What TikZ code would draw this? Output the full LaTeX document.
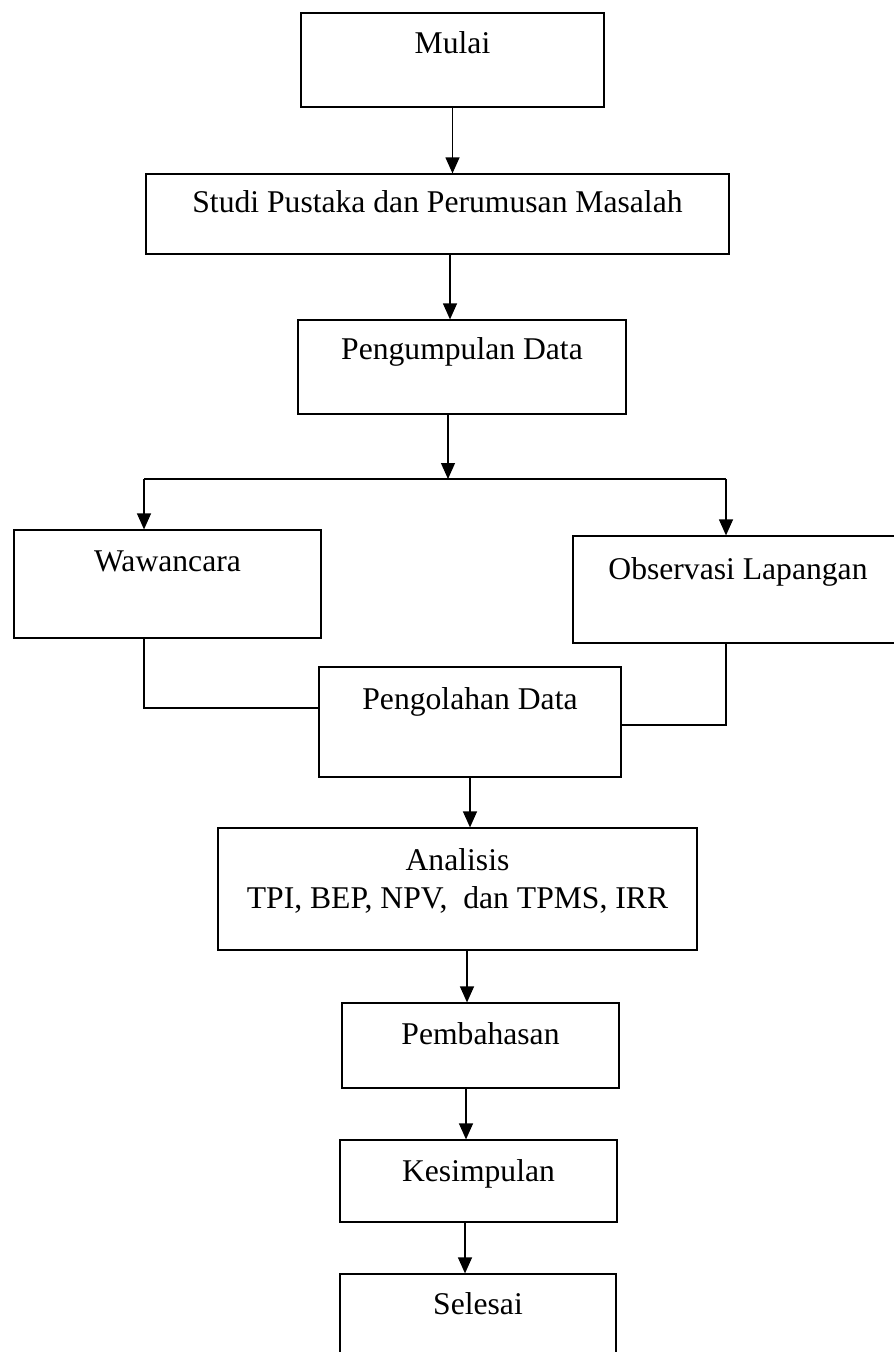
\documentclass[tikz,border=0pt]{standalone}
\usepackage{fontspec}
\setmainfont{Liberation Serif}
\usetikzlibrary{calc, arrows.meta}
\tikzset{>={Triangle[length=3.2mm, width=2.8mm]},
  kotak/.style 2 args={draw, inner sep=0pt, minimum width=#1, minimum height=#2},
  teks/.style={anchor=base, inner sep=0pt, font=\fontsize{18}{21.6}\selectfont}}

\begin{document}
\begin{tikzpicture}[line width=0.7pt]
\useasboundingbox (0,0) rectangle (17.88,-27.04);
\node[kotak={6.06cm}{1.88cm}, label={[teks, yshift=-0.82cm]north:Mulai}] (Mulai) at (9.05,-1.2) {};
\node[kotak={11.66cm}{1.6cm}, label={[teks, yshift=-0.79cm]north:Studi Pustaka dan Perumusan Masalah}] (Studi) at (8.75,-4.28) {};
\node[kotak={6.56cm}{1.88cm}, label={[teks, yshift=-0.8cm]north:Pengumpulan Data}] (Pengumpulan) at (9.24,-7.34) {};
\node[kotak={6.14cm}{2.16cm}, label={[teks, yshift=-0.84cm]north:Wawancara}] (Wawancara) at (3.35,-11.68) {};
\node[kotak={6.6cm}{2.14cm}, label={[teks, yshift=-0.88cm]north:Observasi Lapangan}] (Observasi) at (14.76,-11.79) {};
\node[kotak={6.04cm}{2.2cm}, label={[teks, yshift=-0.86cm]north:Pengolahan Data}] (Pengolahan) at (9.4,-14.44) {};
\node[kotak={9.58cm}{2.44cm}, label={[teks, anchor=north, align=center, yshift=-0.41cm]north:Analisis\\TPI, BEP, NPV,~ dan TPMS, IRR}] (Analisis) at (9.15,-17.78) {};
\node[kotak={5.54cm}{1.7cm}, label={[teks, yshift=-0.84cm]north:Pembahasan}] (Pembahasan) at (9.61,-20.91) {};
\node[kotak={5.54cm}{1.64cm}, label={[teks, yshift=-0.84cm]north:Kesimpulan}] (Kesimpulan) at (9.57,-23.62) {};
\node[kotak={5.52cm}{1.7cm}, label={[teks, yshift=-0.82cm]north:Selesai}] (Selesai) at (9.56,-26.33) {};
\coordinate (Cabang) at (8.96,-9.58);
\coordinate (KiriAtas) at (2.88,-9.58);
\coordinate (KananAtas) at (14.52,-9.58);
\draw[->] (Mulai.south) -- (Mulai.south |- Studi.north);
\draw[->] ([xshift=0.25cm]Studi.south) -- ([xshift=0.25cm]Studi.south |- Pengumpulan.north);
\draw[->] ([xshift=-0.28cm]Pengumpulan.south) -- (Cabang);
\draw (KiriAtas) -- (KananAtas);
\draw[->] (KiriAtas) -- (KiriAtas |- Wawancara.north);
\draw[->] (KananAtas) -- (KananAtas |- Observasi.north);
\draw (KiriAtas |- Wawancara.south) |- ([yshift=0.28cm]Pengolahan.west);
\draw (KananAtas |- Observasi.south) |- ([yshift=-0.06cm]Pengolahan.east);
\draw[->] (Pengolahan.south) -- (Pengolahan.south |- Analisis.north);
\draw[->] ([xshift=0.19cm]Analisis.south) -- ([xshift=0.19cm]Analisis.south |- Pembahasan.north);
\draw[->] ([xshift=-0.29cm]Pembahasan.south) -- ([xshift=-0.29cm]Pembahasan.south |- Kesimpulan.north);
\draw[->] ([xshift=-0.27cm]Kesimpulan.south) -- ([xshift=-0.27cm]Kesimpulan.south |- Selesai.north);
\end{tikzpicture}
\end{document}
